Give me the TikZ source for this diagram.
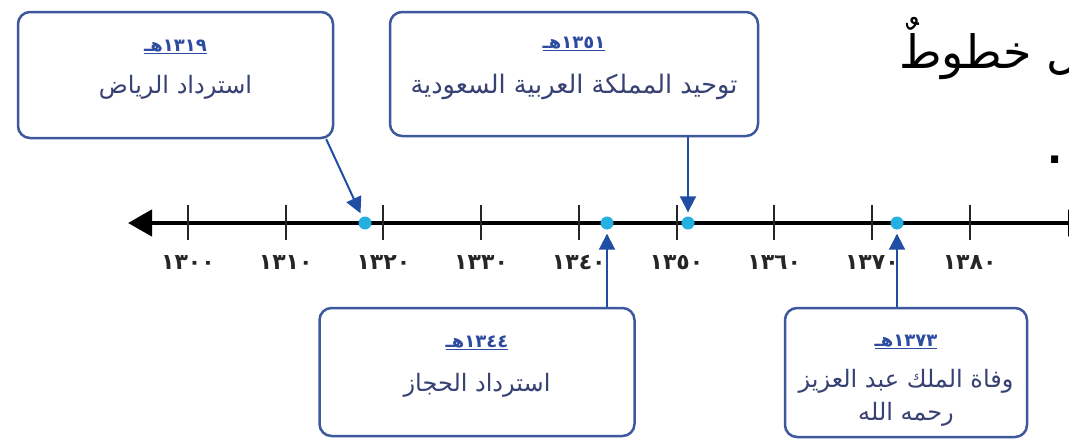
\documentclass[tikz,border=0pt]{standalone}
\usepackage{fontspec}
\usetikzlibrary{arrows.meta}
\TeXXeTstate=1
\newfontfamily\arabicfont[Script=Arabic]{DejaVu Sans}
\definecolor{boxblue}{RGB}{62,88,158}
\definecolor{titleblue}{RGB}{45,75,160}
\definecolor{bodyblue}{RGB}{55,65,115}
\definecolor{arrowblue}{RGB}{32,78,165}
\definecolor{dotcyan}{RGB}{38,176,226}
\tikzset{
  evbox/.style={draw=boxblue, line width=2.5pt, rounded corners=12pt, fill=white, inner sep=0pt},
  evtitle/.style={font=\arabicfont\bfseries\fontsize{18}{20}\selectfont, text=titleblue, inner sep=0pt},
  evbody/.style={font=\arabicfont\fontsize{24}{33}\selectfont, text=bodyblue, align=center, inner sep=0pt},
  evdot/.style={circle, fill=dotcyan, inner sep=0pt, minimum size=13pt},
  evarrow/.style={draw=arrowblue, line width=2pt, -{Triangle[length=16pt,width=16pt]}, shorten >=4pt},
  tickmark/.style={draw=black!85, line width=2pt},
  ticklabel/.style={font=\arabicfont\bfseries\fontsize{22}{24}\selectfont, text=black!85, inner sep=0pt},
}
\begin{document}
\begin{tikzpicture}[x=1pt,y=-1pt]
\useasboundingbox (0,0) rectangle (1069,440);

% timeline
\coordinate (tl) at (128,223);
\coordinate (tr) at (1092,223);
\draw[line width=4.5pt, {Triangle[length=24pt,width=26pt]}-{Triangle[length=24pt,width=26pt]}] (tl) -- (tr);
\foreach \i/\lab in {0/١٣٠٠,1/١٣١٠,2/١٣٢٠,3/١٣٣٠,4/١٣٤٠,5/١٣٥٠,6/١٣٦٠,7/١٣٧٠,8/١٣٨٠}{
  \coordinate (tk\i) at ({188+\i*97.7},223);
  \draw[tickmark] ([yshift=18pt]tk\i) -- ([yshift=-17pt]tk\i);
  \node[ticklabel] (lab\i) at ([yshift=-40pt]tk\i) {\lab};
}

% event dots
\node[evdot] (d1) at (365,223) {};
\node[evdot] (d2) at (607,223) {};
\node[evdot] (d3) at (688,223) {};
\node[evdot] (d4) at (897,223) {};

% boxes
\node[evbox, minimum width=315pt, minimum height=126pt] (b1) at (175.5,75) {};
\node[evbox, minimum width=368pt, minimum height=124pt] (b2) at (574,74) {};
\node[evbox, minimum width=315pt, minimum height=128pt] (b3) at (477,372) {};
\node[evbox, minimum width=242pt, minimum height=129pt] (b4) at (906,372.5) {};

\node[evtitle] (t1) at ([yshift=-36pt]b1.north) {\underline{\beginR\beginL١٣١٩\endL هـ\endR}};
\node[evbody]  (x1) at ([yshift=-77pt]b1.north) {\beginR استرداد الرياض\endR};

\node[evtitle] (t2) at ([yshift=-33pt]b2.north) {\underline{\beginR\beginL١٣٥١\endL هـ\endR}};
\node[evbody, font=\arabicfont\fontsize{25.5}{33}\selectfont]  (x2) at ([yshift=-76pt]b2.north) {\beginR توحيد المملكة العربية السعودية\endR};

\node[evtitle] (t3) at ([yshift=-36pt]b3.north) {\underline{\beginR\beginL١٣٤٤\endL هـ\endR}};
\node[evbody]  (x3) at ([yshift=-79pt]b3.north) {\beginR استرداد الحجاز\endR};

\node[evtitle] (t4) at ([yshift=-35pt]b4.north) {\underline{\beginR\beginL١٣٧٣\endL هـ\endR}};
\node[evbody]  (x4) at ([yshift=-91pt]b4.north) {\beginR وفاة الملك عبد العزيز\endR\\\beginR رحمه الله\endR};

% connectors
\draw[evarrow] ([xshift=-8pt]b1.south east) -- (d1);
\draw[evarrow] (d3 |- b2.south) -- (d3);
\draw[evarrow] (d2 |- b3.north) -- (d2);
\draw[evarrow] (d4 |- b4.north) -- (d4);

% page text fragments
\node[anchor=base west, font=\arabicfont\fontsize{46}{54}\selectfont, inner sep=0pt] (frag) at (899,68) {\beginR ل خطوطٌ\endR};
\node[font=\arabicfont\bfseries\fontsize{40}{44}\selectfont, inner sep=0pt] (dot) at (1055,160) {.};
\end{tikzpicture}
\end{document}
